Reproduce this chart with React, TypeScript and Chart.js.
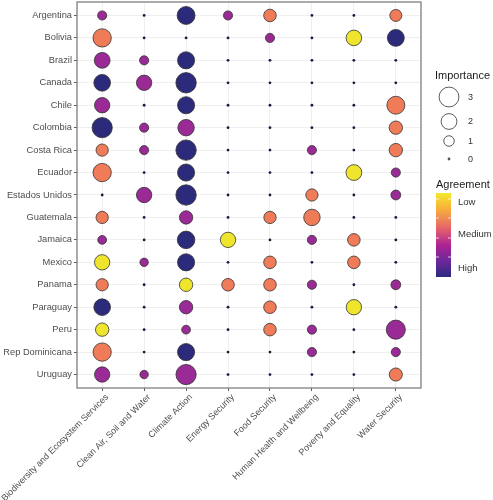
import React, { useEffect, useRef } from "react";
import { Chart, registerables } from "chart.js";

Chart.register(...registerables);

const countries = [
  "Argentina", "Bolivia", "Brazil", "Canada", "Chile", "Colombia", "Costa Rica", "Ecuador",
  "Estados Unidos", "Guatemala", "Jamaica", "Mexico", "Panama", "Paraguay", "Peru",
  "Rep Dominicana", "Uruguay",
];

const goals = [
  "Biodiversity and Ecosystem Services",
  "Clean Air, Soil and Water",
  "Climate Action",
  "Energy Security",
  "Food Security",
  "Human Health and Wellbeing",
  "Poverty and Equality",
  "Water Security",
];

// Importance per goal (one value per country, same order as countries)
const importanceBiodiversity = [0.8, 2.6, 2.0, 2.2, 1.9, 3.1, 1.3, 2.6, 0, 1.3, 0.75, 1.9, 1.3, 2.2, 1.5, 2.6, 1.9];
const importanceCleanAir = [0, 0, 0.8, 1.9, 0, 0.8, 0.8, 0, 1.9, 0, 0, 0.7, 0, 0, 0, 0, 0.7];
const importanceClimate = [2.5, 0, 2.3, 3.15, 2.3, 2.15, 3.15, 2.3, 3.15, 1.5, 2.4, 2.3, 1.5, 1.5, 0.75, 2.3, 3.1];
const importanceEnergy = [0.8, 0, 0, 0, 0, 0, 0, 0, 0, 0, 1.9, 0, 1.35, 0, 0, 0, 0];
const importanceFood = [1.35, 0.8, 0, 0, 0, 0, 0, 0, 0, 1.3, 0, 1.35, 1.35, 1.35, 1.35, 0, 0];
const importanceHealth = [0, 0, 0, 0, 0, 0, 0.8, 0, 1.3, 2.15, 0.8, 0, 0.8, 0, 0.8, 0.8, 0];
const importancePoverty = [0, 1.95, 0, 0, 0, 0, 0, 2.0, 0, 0, 1.35, 1.35, 0, 1.9, 0, 0, 0];
const importanceWater = [1.25, 2.25, 0, 0, 2.5, 1.5, 1.5, 0.8, 0.9, 0, 0, 0, 0.9, 0, 2.8, 0.8, 1.45];

// Agreement level per goal: 1 = Low ... 4 = High, 0 = none
const agreementBiodiversity = [3, 2, 3, 4, 3, 4, 2, 2, 0, 2, 3, 1, 2, 4, 1, 2, 3];
const agreementCleanAir = [0, 0, 3, 3, 0, 3, 3, 0, 3, 0, 0, 3, 0, 0, 0, 0, 3];
const agreementClimate = [4, 0, 4, 4, 4, 3, 4, 4, 4, 3, 4, 4, 1, 3, 3, 4, 3];
const agreementEnergy = [3, 0, 0, 0, 0, 0, 0, 0, 0, 0, 1, 0, 2, 0, 0, 0, 0];
const agreementFood = [2, 3, 0, 0, 0, 0, 0, 0, 0, 2, 0, 2, 2, 2, 2, 0, 0];
const agreementHealth = [0, 0, 0, 0, 0, 0, 3, 0, 2, 2, 3, 0, 3, 0, 3, 3, 0];
const agreementPoverty = [0, 1, 0, 0, 0, 0, 0, 1, 0, 0, 2, 2, 0, 1, 0, 0, 0];
const agreementWater = [2, 4, 0, 0, 2, 2, 2, 3, 3, 0, 0, 0, 3, 0, 3, 3, 2];

const importanceBreaks = [3, 2, 1, 0];
const agreementLabels = ["Low", "Medium", "High"];

const importanceByGoal = [
  importanceBiodiversity, importanceCleanAir, importanceClimate, importanceEnergy,
  importanceFood, importanceHealth, importancePoverty, importanceWater,
];
const agreementByGoal = [
  agreementBiodiversity, agreementCleanAir, agreementClimate, agreementEnergy,
  agreementFood, agreementHealth, agreementPoverty, agreementWater,
];

const agreementColors: Record<number, string> = {
  0: "#1B1B3E",
  1: "#EFE52C",
  2: "#EF7B58",
  3: "#9A2A96",
  4: "#2C2A7B",
};

const DOT_R = 1.4;
function radiusFor(v: number): number {
  if (v <= 0) return DOT_R;
  return 6.4 * Math.sqrt(v) - 1.15;
}

const FONT = "'Liberation Sans', Arial, sans-serif";

export default function App() {
  const canvasRef = useRef<HTMLCanvasElement | null>(null);

  useEffect(() => {
    document.body.style.margin = "0";
    const canvas = canvasRef.current;
    if (!canvas) return;

    const points: { x: number; y: number; r: number }[] = [];
    const fills: string[] = [];
    const borders: number[] = [];
    goals.forEach((_, g) => {
      countries.forEach((_, c) => {
        const imp = importanceByGoal[g][c];
        const agr = agreementByGoal[g][c];
        points.push({ x: g, y: c, r: radiusFor(imp) });
        fills.push(imp > 0 ? agreementColors[agr] : agreementColors[0]);
        borders.push(imp > 0 ? 0.8 : 0);
      });
    });

    const panelPlugin = {
      id: "panel",
      afterDatasetsDraw(chart: any) {
        const { ctx, chartArea } = chart;
        ctx.save();
        ctx.strokeStyle = "#7F7F7F";
        ctx.lineWidth = 1.3;
        ctx.strokeRect(chartArea.left, chartArea.top, chartArea.right - chartArea.left, chartArea.bottom - chartArea.top);
        ctx.restore();
      },
    };

    const legendPlugin = {
      id: "customLegend",
      afterDraw(chart: any) {
        const ctx = chart.ctx as CanvasRenderingContext2D;
        ctx.save();
        // Importance
        ctx.fillStyle = "#1A1A1A";
        ctx.font = `11px ${FONT}`;
        ctx.textAlign = "left";
        ctx.textBaseline = "middle";
        ctx.fillText("Importance", 435, 76);
        const ys = [97, 121.5, 141, 159];
        importanceBreaks.forEach((v, i) => {
          const r = radiusFor(v);
          ctx.beginPath();
          ctx.arc(449, ys[i], r, 0, Math.PI * 2);
          if (v > 0) {
            ctx.strokeStyle = "#333333";
            ctx.lineWidth = 0.8;
            ctx.stroke();
          } else {
            ctx.fillStyle = "#555555";
            ctx.fill();
          }
          ctx.fillStyle = "#333333";
          ctx.font = `9px ${FONT}`;
          ctx.fillText(String(v), 468, ys[i] + 0.5);
        });

        // Agreement
        ctx.fillStyle = "#1A1A1A";
        ctx.font = `11px ${FONT}`;
        ctx.fillText("Agreement", 436, 185);
        const bx = 436, by = 193, bw = 15, bh = 84;
        const grad = ctx.createLinearGradient(0, by, 0, by + bh);
        grad.addColorStop(0, "#F2EA2A");
        grad.addColorStop(0.18, "#F8B23A");
        grad.addColorStop(0.42, "#E5646A");
        grad.addColorStop(0.62, "#AE2393");
        grad.addColorStop(0.82, "#68289B");
        grad.addColorStop(1, "#2C2A7E");
        ctx.fillStyle = grad;
        ctx.fillRect(bx, by, bw, bh);
        ctx.strokeStyle = "rgba(255,255,255,0.9)";
        ctx.lineWidth = 0.8;
        [199, 218, 238, 257].forEach((ty) => {
          ctx.beginPath();
          ctx.moveTo(bx, ty);
          ctx.lineTo(bx + 3, ty);
          ctx.moveTo(bx + bw - 3, ty);
          ctx.lineTo(bx + bw, ty);
          ctx.stroke();
        });
        ctx.fillStyle = "#333333";
        ctx.font = `9.5px ${FONT}`;
        const ly = [202, 234, 268];
        agreementLabels.forEach((t, i) => ctx.fillText(t, 458, ly[i]));
        ctx.restore();
      },
    };

    const chart = new Chart(canvas, {
      type: "bubble",
      data: {
        datasets: [
          {
            data: points,
            backgroundColor: fills,
            borderColor: "#333333",
            borderWidth: borders,
          } as any,
        ],
      },
      options: {
        animation: false,
        responsive: false,
        events: [],
        layout: { autoPadding: false, padding: { left: 0, right: 72, top: 2, bottom: 0 } },
        plugins: { legend: { display: false }, tooltip: { enabled: false } },
        scales: {
          x: {
            type: "linear",
            min: -0.6,
            max: goals.length - 1 + 0.6,
            afterBuildTicks: (scale: any) => {
              scale.ticks = goals.map((_, i) => ({ value: i }));
            },
            afterFit: (scale: any) => {
              scale.height = 112;
              scale.paddingLeft = 0;
              scale.paddingRight = 0;
            },
            ticks: {
              autoSkip: false,
              minRotation: 45,
              maxRotation: 45,
              padding: 1,
              labelOffset: 5,
              color: "#4D4D4D",
              font: { family: FONT, size: 9 },
              callback: (v: any) => goals[Math.round(Number(v))] ?? "",
            },
            grid: { color: "#EBEBEB", lineWidth: 0.8, tickLength: 3, tickColor: "#333333", tickWidth: 0.8 },
            border: { display: false },
          },
          y: {
            type: "linear",
            reverse: true,
            min: -0.6,
            max: countries.length - 1 + 0.6,
            afterBuildTicks: (scale: any) => {
              scale.ticks = countries.map((_, i) => ({ value: i }));
            },
            afterFit: (scale: any) => {
              scale.width = 77;
              scale.paddingTop = 0;
              scale.paddingBottom = 0;
            },
            ticks: {
              autoSkip: false,
              padding: 2,
              color: "#4D4D4D",
              font: { family: FONT, size: 9.3 },
              callback: (v: any) => countries[Math.round(Number(v))] ?? "",
            },
            grid: { color: "#EBEBEB", lineWidth: 0.8, tickLength: 3, tickColor: "#333333", tickWidth: 0.8 },
            border: { display: false },
          },
        },
      },
      plugins: [panelPlugin, legendPlugin],
    });

    return () => chart.destroy();
  }, []);

  return <canvas ref={canvasRef} width={493} height={500} style={{ display: "block" }} />;
}
